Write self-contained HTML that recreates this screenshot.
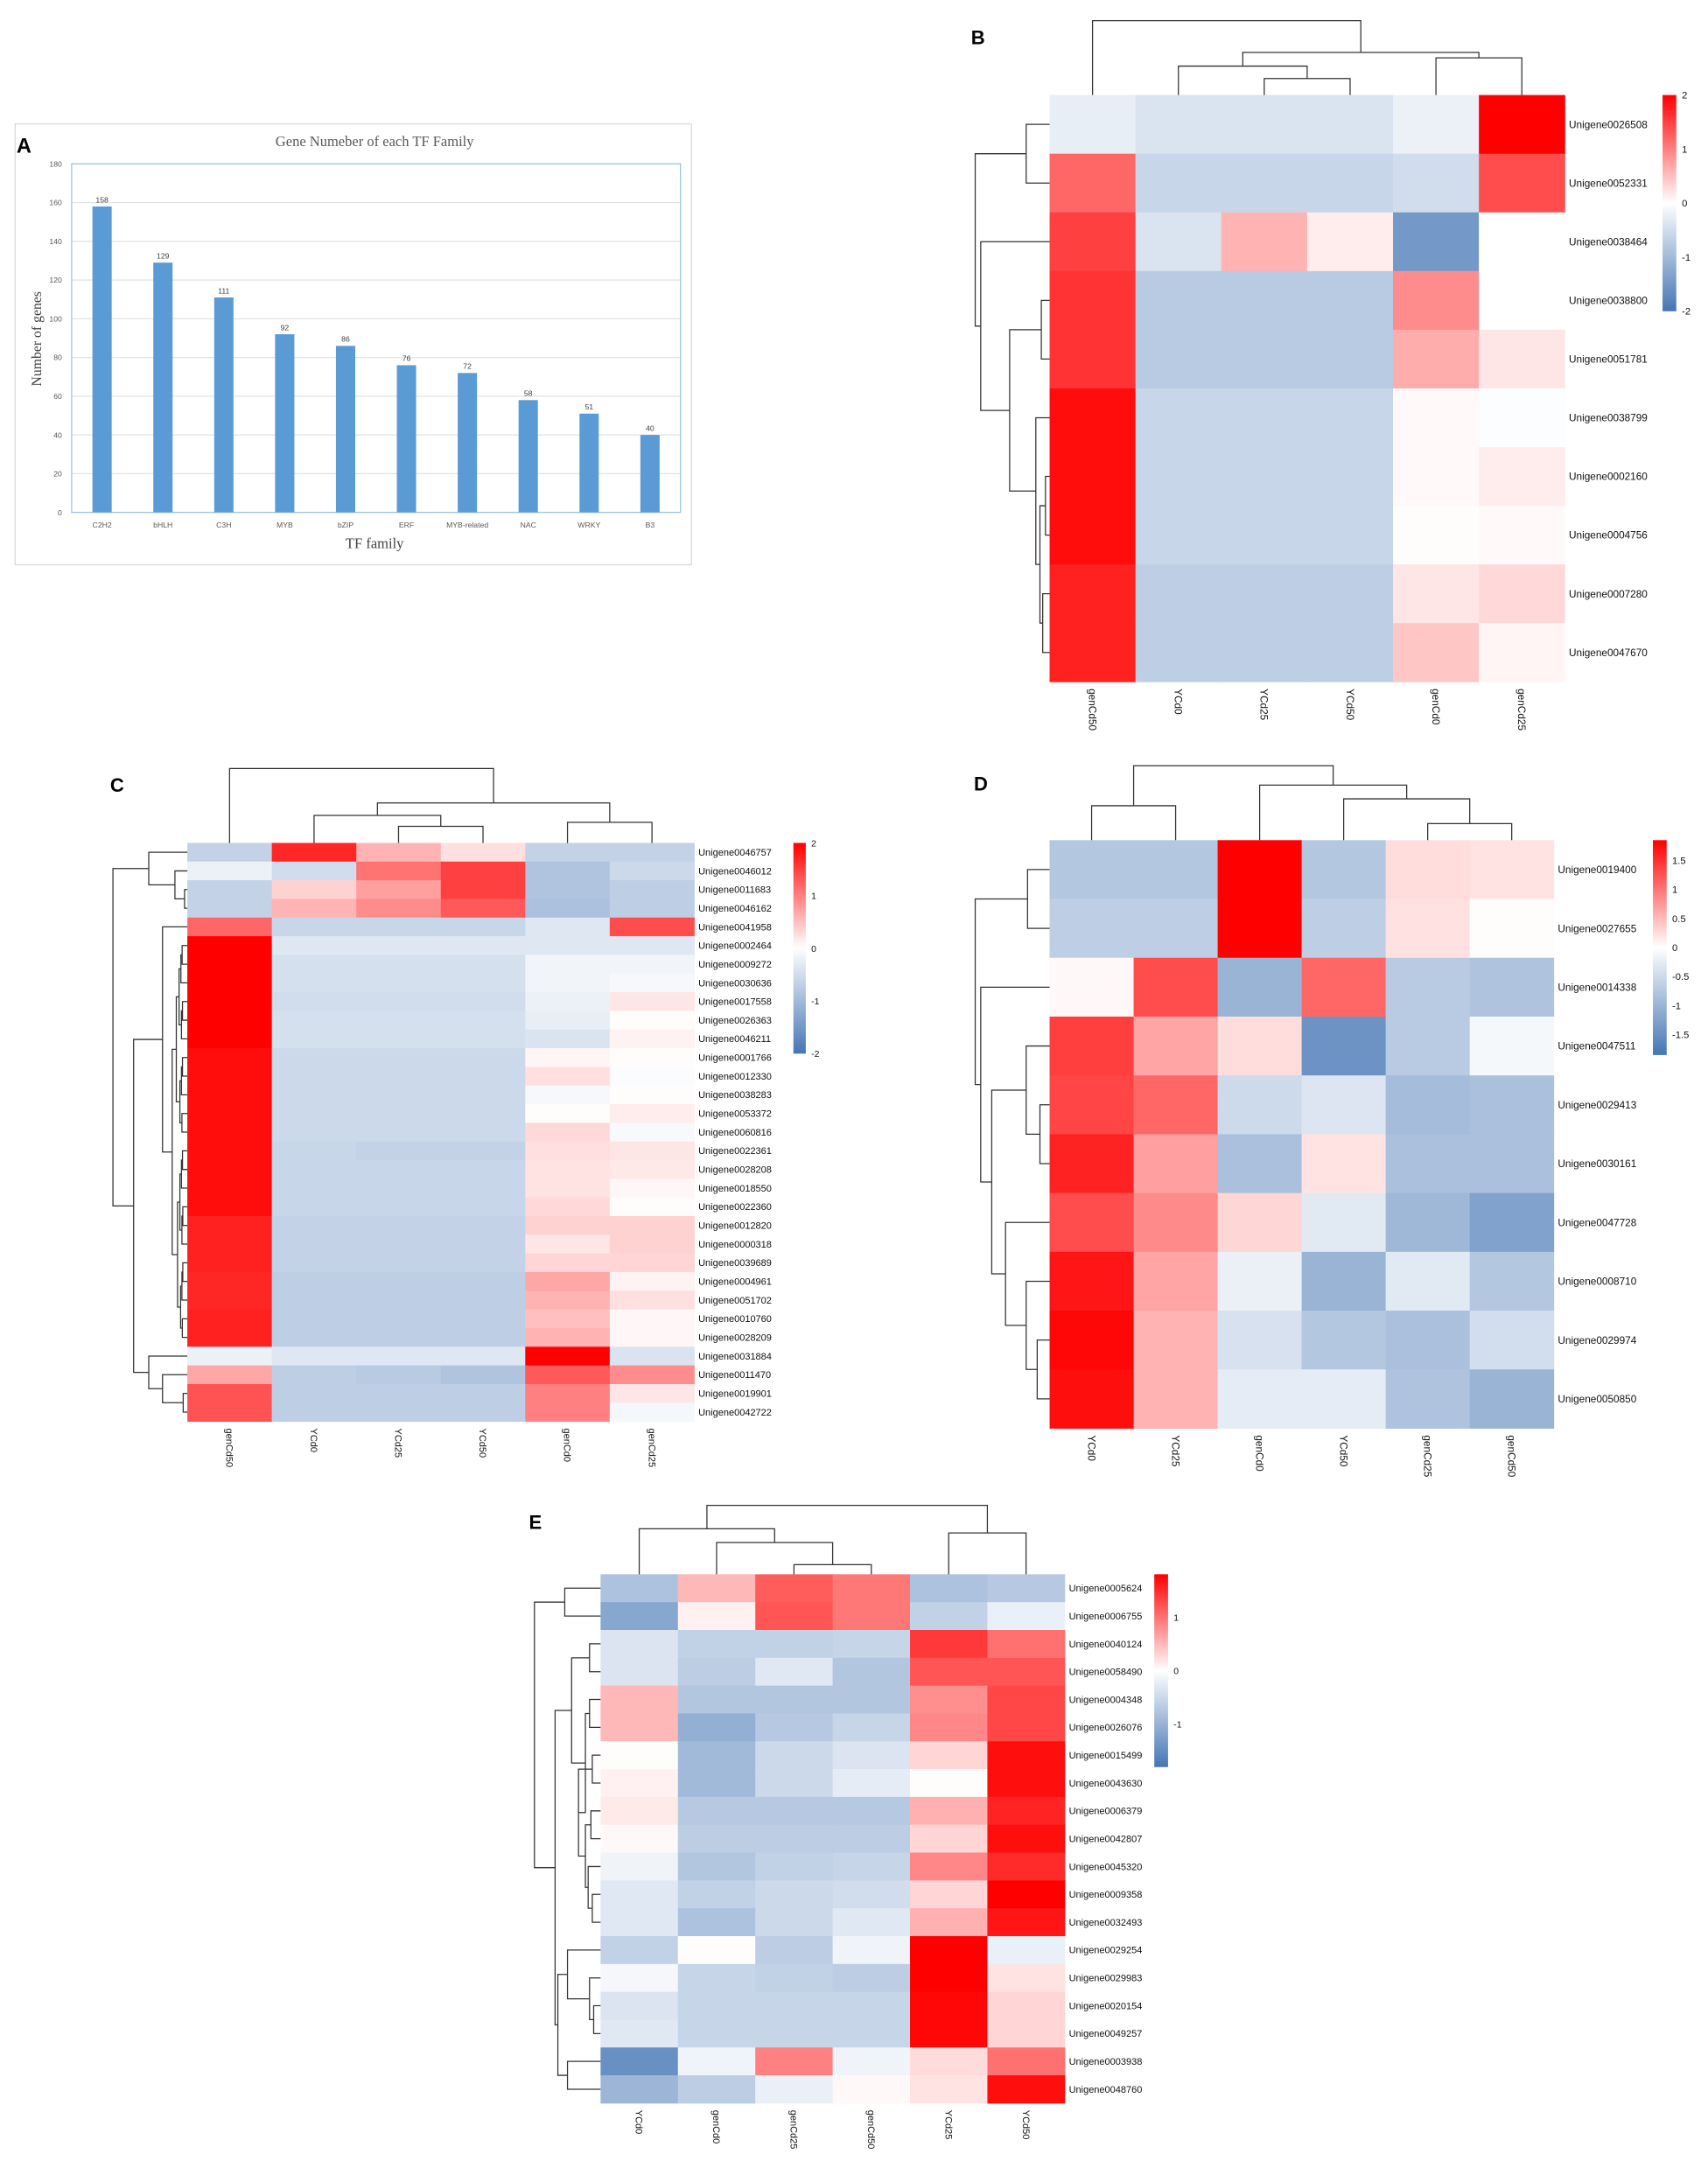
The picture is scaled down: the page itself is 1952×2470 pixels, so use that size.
<!DOCTYPE html>
<html><head><meta charset="utf-8"><style>
html,body{margin:0;padding:0;background:#fff;}
svg{display:block;}
</style></head><body>
<svg id="fig" xmlns="http://www.w3.org/2000/svg" width="1952" height="2470" viewBox="0 0 1240 1569" preserveAspectRatio="none" font-family="Liberation Sans, Arial, sans-serif"></svg>
<script>
// ---------- Panel A data ----------
const aCategories = ["C2H2","bHLH","C3H","MYB","bZIP","ERF","MYB-related","NAC","WRKY","B3"];
const aValues = [158,129,111,92,86,76,72,58,51,40];
const aTicks = [0,20,40,60,80,100,120,140,160,180];

// ---------- Heatmap B ----------
const bCols = ["genCd50","YCd0","YCd25","YCd50","genCd0","genCd25"];
const bRows = ["Unigene0026508","Unigene0052331","Unigene0038464","Unigene0038800","Unigene0051781","Unigene0038799","Unigene0002160","Unigene0004756","Unigene0007280","Unigene0047670"];
const bValues = [
[-0.25,-0.4,-0.4,-0.4,-0.2,2],
[1.2,-0.6,-0.6,-0.6,-0.5,1.4],
[1.5,-0.4,0.6,0.15,-1.5,0],
[1.6,-0.75,-0.75,-0.75,0.9,0],
[1.6,-0.75,-0.75,-0.75,0.65,0.2],
[1.9,-0.6,-0.6,-0.6,0.05,-0.03],
[1.9,-0.6,-0.6,-0.6,0.05,0.15],
[1.9,-0.6,-0.6,-0.6,0.02,0.05],
[1.75,-0.7,-0.7,-0.7,0.2,0.3],
[1.75,-0.7,-0.7,-0.7,0.45,0.08]];
const bTicks = [2,1,0,-1,-2];

// ---------- Heatmap C ----------
const cCols = ["genCd50","YCd0","YCd25","YCd50","genCd0","genCd25"];
const cRows = ["Unigene0046757","Unigene0046012","Unigene0011683","Unigene0046162","Unigene0041958","Unigene0002464","Unigene0009272","Unigene0030636","Unigene0017558","Unigene0026363","Unigene0046211","Unigene0001766","Unigene0012330","Unigene0038283","Unigene0053372","Unigene0060816","Unigene0022361","Unigene0028208","Unigene0018550","Unigene0022360","Unigene0012820","Unigene0000318","Unigene0039689","Unigene0004961","Unigene0051702","Unigene0010760","Unigene0028209","Unigene0031884","Unigene0011470","Unigene0019901","Unigene0042722"];
const cValues = [
[-0.65,1.7,0.6,0.25,-0.65,-0.65],
[-0.2,-0.5,1.1,1.5,-0.85,-0.55],
[-0.65,0.35,0.75,1.5,-0.85,-0.7],
[-0.65,0.6,0.9,1.3,-0.9,-0.7],
[1.2,-0.6,-0.6,-0.6,-0.35,1.4],
[2,-0.35,-0.35,-0.35,-0.35,-0.35],
[2,-0.45,-0.45,-0.45,-0.15,-0.15],
[2,-0.45,-0.45,-0.45,-0.15,-0.1],
[2,-0.5,-0.5,-0.5,-0.2,0.2],
[2,-0.45,-0.45,-0.45,-0.25,0.02],
[2,-0.45,-0.45,-0.45,-0.4,0.1],
[1.9,-0.55,-0.55,-0.55,0.08,0.02],
[1.9,-0.55,-0.55,-0.55,0.25,-0.05],
[1.9,-0.55,-0.55,-0.55,-0.1,0.02],
[1.9,-0.55,-0.55,-0.55,0.02,0.15],
[1.9,-0.55,-0.55,-0.55,0.3,-0.08],
[1.9,-0.6,-0.65,-0.65,0.25,0.2],
[1.9,-0.6,-0.6,-0.6,0.22,0.18],
[1.9,-0.6,-0.6,-0.6,0.22,0.06],
[1.9,-0.6,-0.6,-0.6,0.3,0.02],
[1.75,-0.65,-0.65,-0.65,0.35,0.35],
[1.75,-0.65,-0.65,-0.65,0.2,0.35],
[1.75,-0.65,-0.65,-0.65,0.33,0.33],
[1.7,-0.7,-0.7,-0.7,0.7,0.1],
[1.7,-0.7,-0.7,-0.7,0.6,0.25],
[1.75,-0.7,-0.7,-0.7,0.5,0.06],
[1.75,-0.7,-0.7,-0.7,0.6,0.06],
[-0.2,-0.35,-0.35,-0.35,2,-0.4],
[0.7,-0.7,-0.75,-0.85,1.3,0.9],
[1.35,-0.7,-0.7,-0.7,1.0,0.2],
[1.35,-0.7,-0.7,-0.7,1.0,-0.12]];
const cTicks = [2,1,0,-1,-2];

// ---------- Heatmap D ----------
const dCols = ["YCd0","YCd25","genCd0","YCd50","genCd25","genCd50"];
const dRows = ["Unigene0019400","Unigene0027655","Unigene0014338","Unigene0047511","Unigene0029413","Unigene0030161","Unigene0047728","Unigene0008710","Unigene0029974","Unigene0050850"];
const dValues = [
[-0.75,-0.75,1.85,-0.75,0.25,0.2],
[-0.65,-0.65,1.85,-0.65,0.22,0.02],
[0.05,1.3,-1.0,1.1,-0.7,-0.8],
[1.4,0.65,0.25,-1.45,-0.7,-0.1],
[1.35,1.1,-0.5,-0.35,-0.9,-0.85],
[1.6,0.7,-0.85,0.2,-0.85,-0.85],
[1.3,0.85,0.3,-0.3,-0.95,-1.25],
[1.7,0.65,-0.2,-1.0,-0.3,-0.75],
[1.8,0.55,-0.4,-0.75,-0.85,-0.45],
[1.75,0.55,-0.25,-0.25,-0.8,-1.0]];
const dTicks = [1.5,1,0.5,0,-0.5,-1,-1.5];

// ---------- Heatmap E ----------
const eCols = ["YCd0","genCd0","genCd25","genCd50","YCd25","YCd50"];
const eRows = ["Unigene0005624","Unigene0006755","Unigene0040124","Unigene0058490","Unigene0004348","Unigene0026076","Unigene0015499","Unigene0043630","Unigene0006379","Unigene0042807","Unigene0045320","Unigene0009358","Unigene0032493","Unigene0029254","Unigene0029983","Unigene0020154","Unigene0049257","Unigene0003938","Unigene0048760"];
const eValues = [
[-0.8,0.5,1.15,0.95,-0.8,-0.7],
[-1.15,0.1,1.2,0.95,-0.6,-0.2],
[-0.35,-0.6,-0.6,-0.55,1.4,1.0],
[-0.35,-0.65,-0.3,-0.75,1.2,1.2],
[0.5,-0.75,-0.75,-0.75,0.8,1.3],
[0.5,-1.05,-0.7,-0.55,0.85,1.3],
[0.02,-0.9,-0.5,-0.35,0.3,1.7],
[0.1,-0.9,-0.5,-0.25,0.02,1.7],
[0.15,-0.7,-0.7,-0.7,0.55,1.55],
[0.05,-0.65,-0.65,-0.65,0.3,1.7],
[-0.15,-0.75,-0.6,-0.55,0.85,1.5],
[-0.3,-0.6,-0.5,-0.45,0.3,1.8],
[-0.3,-0.8,-0.5,-0.3,0.55,1.65],
[-0.6,0.02,-0.65,-0.15,1.8,-0.2],
[-0.1,-0.55,-0.6,-0.65,1.8,0.2],
[-0.35,-0.55,-0.55,-0.55,1.75,0.3],
[-0.3,-0.55,-0.55,-0.55,1.75,0.3],
[-1.45,-0.15,0.9,-0.15,0.25,1.0],
[-0.95,-0.65,-0.2,0.05,0.2,1.7]];
const eTicks = [1,0,-1];

const NS = "http://www.w3.org/2000/svg";
const svg = document.getElementById('fig');
function mk(tag, attrs, parent, text){
  const e = document.createElementNS(NS, tag);
  for (const k in attrs) e.setAttribute(k, attrs[k]);
  if (text !== undefined) e.textContent = text;
  (parent || svg).appendChild(e);
  return e;
}
function color(v, vmax){
  let t = Math.max(-1, Math.min(1, v / vmax));
  if (t >= 0) { return `rgb(255,${Math.round(255*(1-t))},${Math.round(255*(1-t))})`; }
  t = -t;
  return `rgb(${Math.round(255-t*(255-69))},${Math.round(255-t*(255-117))},${Math.round(255-t*(255-180))})`;
}

// ---------- Panel A ----------
(function(){
  const g = mk('g', {});
  
  
  const box = mk('rect', {x:11, y:90, width:491, height:320, fill:'#fff', stroke:'#d9d9d9', 'stroke-width':0.8}, g);
  
  
  const L = 52, R = 494, T = 119, B = 372;
  const yS = v => B - (v/180)*(B-T);
  const bw = (R-L)/aCategories.length;
  const xS = i => L + bw*(i+0.5);
  aTicks.forEach(t => {
    const gl = mk('line', {x1:L, x2:R, y1:yS(t), y2:yS(t), stroke:'#e3e3e3', 'stroke-width':0.8}, g);
    
    
    const tl = mk('text', {x:45, y:yS(t)+2, 'font-size':5.5, fill:'#595959', 'text-anchor':'end'}, g, String(t));
    
    
  });
  const fr = mk('rect', {x:L, y:T, width:R-L, height:B-T, fill:'none', stroke:'#9dc3e6', 'stroke-width':0.8}, g);
  
  
  aValues.forEach((v,i) => {
    const r = mk('rect', {x:xS(i)-7, y:yS(v), width:14, height:B-yS(v), fill:'#5b9bd5'}, g);
    
    
    const vl = mk('text', {x:xS(i), y:yS(v)-3, 'font-size':5.5, fill:'#404040', 'text-anchor':'middle'}, g, String(v));
    
    
    const cl = mk('text', {x:xS(i), y:383, 'font-size':5.5, fill:'#595959', 'text-anchor':'middle'}, g, aCategories[i]);
    
    
  });
  const tt = mk('text', {x:272, y:106, 'font-size':10.5, fill:'#595959', 'text-anchor':'middle', 'font-family':'Liberation Serif, serif'}, g, 'Gene Numeber of each TF Family');
  
  
  const xt = mk('text', {x:272, y:398, 'font-size':10.5, fill:'#404040', 'text-anchor':'middle', 'font-family':'Liberation Serif, serif'}, g, 'TF family');
  
  
  const yt = mk('text', {x:0, y:0, 'font-size':10, fill:'#404040', 'text-anchor':'middle', 'font-family':'Liberation Serif, serif', transform:'translate(30,246) rotate(-90)'}, g, 'Number of genes');
  
  
})();

// ---------- dendrogram helper ----------
function bal(lo, hi, h0, h1){
  if (lo === hi) return lo;
  const mid = Math.floor((lo+hi)/2);
  const step = (h1-h0)/3;
  return [h0, bal(lo, mid, h0+step, h1), bal(mid+1, hi, h0+step*1.3, h1)];
}
function dendro(g, node, pos, base, orient){
  // returns [position, height]
  if (typeof node === 'number') return [pos[node], base];
  const a = dendro(g, node[1], pos, base, orient);
  const b = dendro(g, node[2], pos, base, orient);
  const h = node[0];
  let d;
  if (orient === 'top') d = `M${a[0]},${a[1]}V${h}H${b[0]}V${b[1]}`;
  else d = `M${a[1]},${a[0]}H${h}V${b[0]}H${b[1]}`;
  const p = mk('path', {d:d, fill:'none', stroke:'#333', 'stroke-width':0.8}, g);
  
  
  return [(a[0]+b[0])/2, h];
}

// ---------- heatmap builder ----------
function heatmap(cfg){
  const g = mk('g', {});
  
  
  const nC = cfg.cols.length, nR = cfg.rows.length;
  const cw = (cfg.x1-cfg.x0)/nC, rh = (cfg.y1-cfg.y0)/nR;
  cfg.vals.forEach((row, r) => row.forEach((v, c) => {
    const cell = mk('rect', {x:cfg.x0+c*cw, y:cfg.y0+r*rh, width:cw+0.3, height:rh+0.3, fill:color(v, cfg.vmax)}, g);
    
    
  }));
  cfg.rows.forEach((n, r) => {
    const t = mk('text', {x:cfg.x1+3, y:cfg.y0+(r+0.5)*rh+cfg.fs*0.35, 'font-size':cfg.fs, fill:'#111'}, g, n);
    
    
  });
  cfg.cols.forEach((n, c) => {
    const cx = cfg.x0+(c+0.5)*cw;
    const t = mk('text', {x:0, y:0, 'font-size':cfg.fs, fill:'#111', transform:`translate(${cx-cfg.fs*0.35},${cfg.y1+5}) rotate(90)`}, g, n);
    
    
  });
  // colorbar
  const cb = cfg.cb;
  const defsId = cfg.name + '-grad';
  const defs = mk('defs', {}, g);
  const lg = mk('linearGradient', {id:defsId, x1:0, y1:0, x2:0, y2:1}, defs);
  for (let i = 0; i <= 20; i++) {
    const v = cfg.vmax - (2*cfg.vmax)*i/20;
    mk('stop', {offset:(i/20), 'stop-color':color(v, cfg.vmax)}, lg);
  }
  const bar = mk('rect', {x:cb.x, y:cb.y0, width:cb.w, height:cb.y1-cb.y0, fill:`url(#${defsId})`}, g);
  
  
  cfg.ticks.forEach(t => {
    const y = cb.y0 + (cfg.vmax - t)/(2*cfg.vmax)*(cb.y1-cb.y0);
    const tl = mk('text', {x:cb.x+cb.w+4, y:y+2.5, 'font-size':cfg.fs*0.95, fill:'#111'}, g, String(t));
    
    
  });
  const colPos = cfg.cols.map((_, c) => cfg.x0+(c+0.5)*cw);
  const rowPos = cfg.rows.map((_, r) => cfg.y0+(r+0.5)*rh);
  dendro(g, cfg.topTree, colPos, cfg.y0, 'top');
  dendro(g, cfg.leftTree, rowPos, cfg.x0, 'left');
  const lab = mk('text', {x:cfg.label[1], y:cfg.label[2], 'font-size':14, 'font-weight':'bold', fill:'#000'}, g, cfg.label[0]);
  
  
}
mk('text', {x:12, y:111, 'font-size':15, 'font-weight':'bold', fill:'#000'}, svg, 'A');

heatmap({name:'panel-b-heatmap', cols:bCols, rows:bRows, vals:bValues, vmax:2, ticks:bTicks,
  x0:762, x1:1136, y0:69, y1:495, fs:7.5, cb:{x:1207, w:10, y0:69, y1:226}, label:['B',705,32],
  topTree:[15, 0, [38, [48, 1, [57, 2, 3]], [42, 4, 5]]],
  leftTree:[708, [745,0,1], [712, 2, [733, [756,3,4], [752, 5, [755,[759,6,7],[757,8,9]]]]]]});

heatmap({name:'panel-c-heatmap', cols:cCols, rows:cRows, vals:cValues, vmax:2, ticks:cTicks,
  x0:136, x1:504, y0:612, y1:1032, fs:7, cb:{x:576, w:9, y0:612, y1:765}, label:['C',80,575],
  topTree:[558, 0, [583, [592,1,[600,2,3]], [597,4,5]]],
  leftTree:[82, [108,0,[127,1,[134,2,3]]], [97, [118, 4, bal(5,26,125,134)], [108,27,[118,28,[133,29,30]]]]]});

heatmap({name:'panel-d-heatmap', cols:dCols, rows:dRows, vals:dValues, vmax:1.85, ticks:dTicks,
  x0:762, x1:1128, y0:610, y1:1037, fs:7.5, cb:{x:1200, w:10, y0:610, y1:766}, label:['D',707,574],
  topTree:[556, [585,0,1], [570, 2, [580, 3, [598,4,5]]]],
  leftTree:[708, [746,0,1], [712, 2, [720, [745,3,[755,4,5]], [730,6,[745,7,[753,8,9]]]]]]});

heatmap({name:'panel-e-heatmap', cols:eCols, rows:eRows, vals:eValues, vmax:1.8, ticks:eTicks,
  x0:436, x1:773, y0:1143, y1:1527, fs:7, cb:{x:838, w:10, y0:1143, y1:1283}, label:['E',384,1110],
  topTree:[1093, [1110, 0, [1120, 1, [1136,2,3]]], [1113,4,5]],
  leftTree:[388, [410,0,1], [403, [415,[428,2,3],[425,[428,4,5],[420,[430,6,7],[425,[429,8,9],[427,10,[430,11,12]]]]]], [405,[412,13,[428,14,[431,15,16]]],[412,17,18]]]]});
</script>
</body></html>
